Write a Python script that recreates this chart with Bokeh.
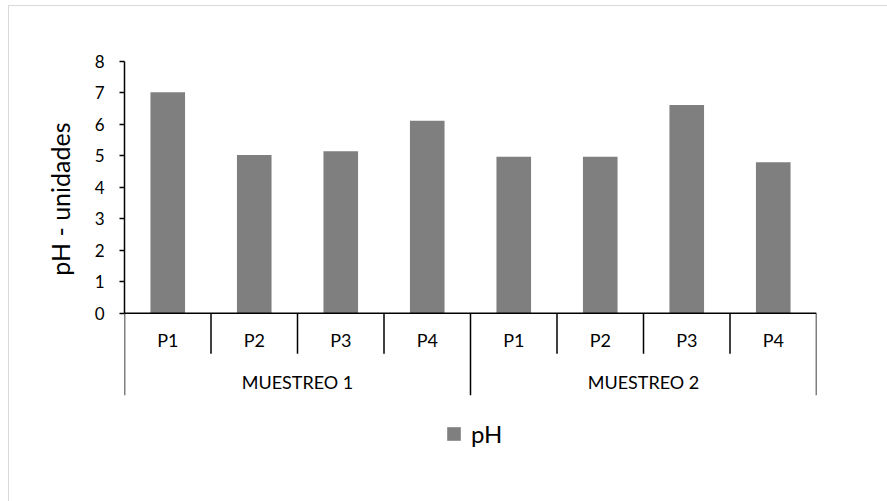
from bokeh.plotting import figure
from bokeh.models import (Range1d, FactorRange, ColumnDataSource, Legend, LegendItem,
                          FixedTicker, Span, Title, GlobalInlineStyleSheet)
from bokeh.core.properties import value
from bokeh.embed import file_html
from bokeh.resources import INLINE

# pH per sampling point, for each sampling campaign
muestreos = ["MUESTREO 1", "MUESTREO 2"]
puntos = ["P1", "P2", "P3", "P4"]
ph_muestreo_1 = [7.02, 5.03, 5.15, 6.12]
ph_muestreo_2 = [4.97, 4.97, 6.62, 4.80]
y_ticks = [0, 1, 2, 3, 4, 5, 6, 7, 8]
y_title = "pH - unidades"
serie = "pH"

FONT = value("Lato")
factors = [(m, pt) for m in muestreos for pt in puntos]
ph = ph_muestreo_1 + ph_muestreo_2

p = figure(width=887, height=501,
           x_range=FactorRange(*factors, range_padding=0, group_padding=0,
                               subgroup_padding=0, factor_padding=0),
           y_range=Range1d(-5.35, 8),
           x_axis_location=None,
           output_backend="svg", toolbar_location=None,
           min_border_left=124, min_border_right=71,
           min_border_top=61, min_border_bottom=20)
p.grid.visible = False
p.outline_line_color = None
p.background_fill_color = "white"
p.border_fill_color = "white"

# value axis
ax = p.yaxis[0]
ax.bounds = (0, 8)
ax.ticker = FixedTicker(ticks=y_ticks)
ax.minor_tick_line_color = None
ax.major_tick_in = 0
ax.major_tick_out = 5
ax.axis_line_width = 1.5
ax.major_tick_line_width = 1.5
ax.axis_line_color = "black"
ax.major_tick_line_color = "black"
ax.major_label_standoff = 15
ax.major_label_text_font = "Lato"
ax.major_label_text_font_size = "17px"
ax.major_label_text_color = "black"

# axis title, placed along the 0-8 span of the value axis
p.add_layout(Title(text=y_title, align="right", offset=61, standoff=33,
                   text_font="Lato", text_font_size="25px",
                   text_font_style="normal", text_color="black"), "left")

# bars
src = ColumnDataSource(dict(x=factors, ph=ph))
bars = p.vbar(x="x", top="ph", width=0.4, source=src,
              fill_color="#7f7f7f", line_color=None)

# category axis line and the separators between categories / groups
p.add_layout(Span(location=0, dimension="width", line_color="black", line_width=1.5))
inner_x = [(m, pt, -0.5) for m in muestreos for pt in puntos[1:]]
outer_x = [(m, puntos[0], -0.5) for m in muestreos] + [(muestreos[-1], puntos[-1], 0.5)]
p.segment(x0=inner_x, y0=0, x1=inner_x, y1=-1.29, line_color="black", line_width=1.5)
p.segment(x0=outer_x, y0=0, x1=outer_x, y1=-2.61, line_color="black", line_width=1.5)

# category labels
p.text(x=factors, y=-0.86, text=[pt for _, pt in factors], text_align="center",
       text_baseline="middle", text_font=FONT, text_font_size="18px", text_color="black")
p.text(x=muestreos, y=-2.19, text=muestreos, text_align="center",
       text_baseline="middle", text_font=FONT, text_font_size="18px", text_color="black")

# legend
legend = Legend(items=[LegendItem(label=serie, renderers=[bars])],
                location=(321, 33), orientation="horizontal",
                glyph_width=17, glyph_height=17, label_standoff=9,
                label_text_font="Lato", label_text_font_size="24px",
                label_text_color="black",
                border_line_color=None, background_fill_alpha=0,
                padding=0, margin=0, spacing=0)
p.add_layout(legend)

# thin grey border round the chart area
p.stylesheets = [GlobalInlineStyleSheet(css="""
body::after {
  content: "";
  position: fixed;
  left: 8px; top: 5px; right: 0; bottom: 0;
  border-left: 1.5px solid #d9d9d9;
  border-top: 1.5px solid #d9d9d9;
  pointer-events: none;
  z-index: 10;
}
""")]

open("out.html", "w").write(file_html(p, INLINE))
